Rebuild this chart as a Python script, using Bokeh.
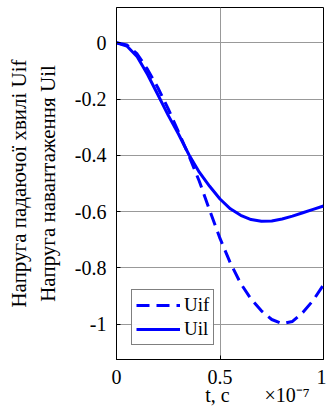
from bokeh.plotting import figure
from bokeh.models import Range1d, FixedTicker, Legend, LegendItem
from bokeh.embed import file_html
from bokeh.resources import INLINE

# time in units of 1e-7 s
t = [0.0, 0.05, 0.1, 0.15, 0.2, 0.25, 0.3, 0.35, 0.4, 0.45, 0.5,
     0.55, 0.6, 0.65, 0.7, 0.75, 0.8, 0.85, 0.9, 0.95, 1.0]
uif = [0.0, -0.008, -0.04, -0.095, -0.16, -0.235, -0.318, -0.402, -0.492, -0.595, -0.695,
       -0.782, -0.855, -0.91, -0.952, -0.983, -0.998, -0.99, -0.958, -0.915, -0.86]
uil = [0.0, -0.012, -0.05, -0.113, -0.185, -0.258, -0.325, -0.398, -0.46, -0.51, -0.555,
       -0.59, -0.613, -0.628, -0.634, -0.633, -0.626, -0.616, -0.604, -0.592, -0.58]
x_ticks = [0, 0.5, 1]
y_ticks = [0, -0.2, -0.4, -0.6, -0.8, -1]
x_tick_labels = ["0", "0.5", "1"]
y_tick_labels = ["0", "-0.2", "-0.4", "-0.6", "-0.8", "-1"]
series_names = ["Uif", "Uil"]
y_label = "Напруга падаючої хвилі Uif\nНапруга навантаження Uil"
x_label = "t, c"
x_multiplier = "×10⁻⁷"

FONT = "Liberation Serif"
BLUE = "#0000ff"
NB = "\u00a0"

p = figure(width=326, height=408, output_backend="svg", toolbar_location=None,
           x_range=Range1d(0, 1), y_range=Range1d(-1.125, 0.125),
           min_border_left=116, min_border_right=3, min_border_top=7, min_border_bottom=49)
p.background_fill_color = "white"
p.border_fill_color = "white"
p.outline_line_color = "black"
p.outline_line_width = 1

r1 = p.line(t, uif, line_color=BLUE, line_width=3, line_dash="13 7")
r2 = p.line(t, uil, line_color=BLUE, line_width=3)

for ax, ticks, labels in ((p.xaxis[0], x_ticks, x_tick_labels), (p.yaxis[0], y_ticks, y_tick_labels)):
    ax.ticker = FixedTicker(ticks=ticks)
    ax.major_label_overrides = {tk: lb for tk, lb in zip(ticks, labels)}
    ax.minor_tick_line_color = None
    ax.major_tick_in = 4
    ax.major_tick_out = 0
    ax.axis_line_color = "black"
    ax.major_tick_line_color = "black"
    ax.major_label_text_font = FONT
    ax.major_label_text_font_size = "20px"
    ax.major_label_text_color = "black"
    ax.axis_label_text_font = FONT
    ax.axis_label_text_font_size = "21px"
    ax.axis_label_text_font_style = "normal"
    ax.axis_label_text_color = "black"

p.xaxis.major_label_standoff = 10
p.yaxis.major_label_standoff = 10
p.yaxis.axis_label = y_label
p.yaxis.axis_label_standoff = 12

# x label centred under the axis, multiplier to its right (padding keeps "t, c" centred)
p.xaxis.axis_label = NB * 15 + x_label + NB * 7 + x_multiplier
p.xaxis.axis_label_text_font_size = "20px"
p.xaxis.axis_label_standoff = -3

p.xgrid.ticker = FixedTicker(ticks=x_ticks)
p.ygrid.ticker = FixedTicker(ticks=y_ticks)
p.grid.grid_line_color = "#999999"
p.grid.grid_line_width = 1

legend = Legend(items=[LegendItem(label=series_names[0], renderers=[r1]),
                       LegendItem(label=series_names[1], renderers=[r2])],
                location=(15, 14))
legend.border_line_color = "black"
legend.border_line_width = 1
legend.background_fill_color = "white"
legend.label_text_font = FONT
legend.label_text_font_size = "19px"
legend.label_text_color = "black"
legend.glyph_width = 44
legend.glyph_height = 20
legend.label_height = 20
legend.label_standoff = 4
legend.padding = 4
legend.spacing = 2
legend.margin = 0
p.add_layout(legend, "center")

open("out.html", "w").write(file_html(p, INLINE))
